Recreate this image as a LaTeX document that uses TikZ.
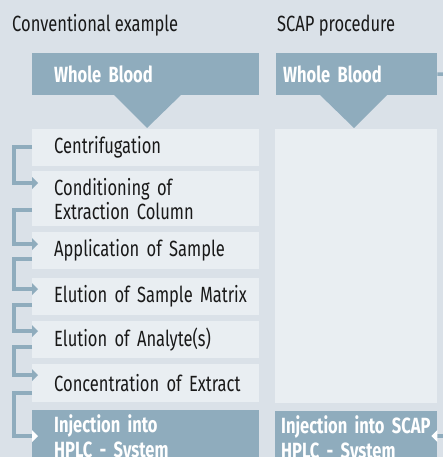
\documentclass[tikz,border=0pt]{standalone}
\usepackage{fontspec}
\setmainfont{Fira Sans}[FakeStretch=0.75]
\usetikzlibrary{arrows.meta,calc}
\definecolor{bg}{RGB}{218,225,232}
\definecolor{lightbox}{RGB}{233,238,242}
\definecolor{darkbox}{RGB}{143,172,189}
\definecolor{ink}{RGB}{25,25,25}
\tikzset{
  txt/.style={font=\fontsize{22}{24}\selectfont, text=ink},
  ttl/.style={txt, anchor=base west, inner sep=0pt},
  lbox/.style={txt, fill=lightbox, anchor=north west, inner xsep=22pt, inner ysep=0pt,
    text width=183pt, align=left},
  dbox/.style={font=\fontsize{22}{25}\selectfont\bfseries, text=white, fill=darkbox,
    anchor=north west, inner ysep=0pt, align=left},
  bracket/.style={draw=darkbox, line width=4pt,
    -{Triangle[width=12pt,length=6pt,line width=0pt]}, shorten >=-6pt},
  lastbracket/.style={bracket, -{Triangle[width=12pt,length=6pt,line width=0pt,color=white]}},
  rstub/.style={draw=darkbox, line width=3.5pt},
}
\begin{document}
\begin{tikzpicture}[x=1pt,y=-1pt]
\useasboundingbox (0,0) rectangle (443,457);
\clip (0,0) rectangle (443,457);
\fill[bg] (0,0) rectangle (443,457);

% titles
\node[ttl] (t1) at (12,32) {Conventional example};
\node[ttl] (t2) at (277,32) {SCAP procedure};

% headers
\node[dbox, inner xsep=22pt, text width=183pt, minimum height=42pt] (wb1) at (32,53) {Whole Blood};
\fill[darkbox] (113,94) -- (147,128) -- (182,94) -- cycle;
\node[dbox, inner xsep=7pt, text width=147pt, minimum height=42pt] (wb2) at (276,53) {Whole Blood};
\fill[darkbox] (319,94) -- (354,128) -- (388,94) -- cycle;

% left column steps
\node[lbox, minimum height=37pt] (c1) at (32,129) {Centrifugation};
\node[lbox, minimum height=55pt] (c2) at (32,171) {Conditioning of\\Extraction Column};
\node[lbox, minimum height=37pt] (c3) at (32,232) {\mbox{Application of Sample}};
\node[lbox, minimum height=37pt] (c4) at (32,278) {\mbox{Elution of Sample Matrix}};
\node[lbox, minimum height=37pt] (c5) at (32,321) {\mbox{Elution of Analyte(s)}};
\node[lbox, minimum height=38pt] (c6) at (32,364) {\mbox{Concentration of Extract}};
\node[dbox, inner xsep=22pt, text width=183pt, minimum height=56pt] (c7) at (32,410) {Injection into\\HPLC - System};

% right column
\node[fill=lightbox, anchor=north west, inner sep=0pt, minimum width=162pt, minimum height=274pt] (r1) at (275,129) {};
\node[dbox, inner xsep=6pt, text width=150pt, minimum height=56pt] (r2) at (275,411) {\mbox{Injection into SCAP}\\HPLC - System};

% brackets
\draw[bracket] ($(c1.north west)+(0,18)$) -- ++(-18,0) |- ($(c2.north west)+(0,12)$);
\draw[bracket] ($(c2.north west)+(0,39)$) -- ++(-18,0) |- ($(c3.north west)+(0,12)$);
\draw[bracket] ($(c3.north west)+(0,27)$) -- ++(-18,0) |- ($(c4.north west)+(0,11)$);
\draw[bracket] ($(c4.north west)+(0,27)$) -- ++(-18,0) |- ($(c5.north west)+(0,10)$);
\draw[bracket] ($(c5.north west)+(0,26)$) -- ++(-18,0) |- ($(c6.north west)+(0,11)$);
\draw[lastbracket] ($(c6.north west)+(0,29)$) -- ++(-18,0) |- ($(c7.north west)+(0,26)$);

% right stubs
\coordinate (rt) at (447,74);
\coordinate (rb) at (447,436);
\draw[rstub] (wb2.east) -- (rt);
\draw[rstub, -{Triangle[width=12pt,length=6pt,line width=0pt,color=white]}, shorten >=-6pt] (rb) -- ($(r2.north east)+(0,25)$);
\end{tikzpicture}
\end{document}
